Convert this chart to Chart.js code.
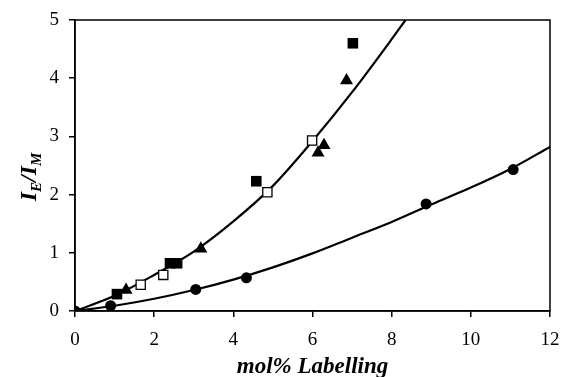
<!DOCTYPE html>
<html>
<head>
<meta charset="utf-8">
<script src="https://cdn.jsdelivr.net/npm/chart.js@4.4.1/dist/chart.umd.min.js"></script>
<style>
  body { margin: 0; background: #fff; }
  #wrap { width: 563px; height: 377px; }
</style>
</head>
<body>
<div id="wrap"><canvas id="myChart" width="563" height="377"></canvas></div>
<script>
// points (x = mol% labelling, y = IE/IM)
var filledSqX = [1.06, 2.40, 2.58, 4.58, 7.02];
var filledSqY = [0.29, 0.82, 0.82, 2.23, 4.60];
var triX = [1.29, 3.18, 6.14, 6.29, 6.86];
var triY = [0.36, 1.07, 2.72, 2.85, 3.96];
var openSqX = [1.66, 2.23, 4.86, 5.99];
var openSqY = [0.45, 0.62, 2.04, 2.93];
var circX = [0, 0.90, 3.05, 4.33, 8.87, 11.07];
var circY = [0, 0.09, 0.37, 0.57, 1.84, 2.43];

// trend curves
var upperX = [0, 1, 2, 3, 4, 5, 6, 7, 8, 8.35];
var upperY = [0, 0.26, 0.62, 1.02, 1.54, 2.15, 2.92, 3.76, 4.67, 5.0];
var lowerX = [0, 1, 2, 3, 4, 5, 6, 7, 8, 9, 10, 11, 12];
var lowerY = [0, 0.09, 0.21, 0.36, 0.54, 0.75, 0.99, 1.26, 1.53, 1.83, 2.12, 2.44, 2.82];

var xTicks = [0, 2, 4, 6, 8, 10, 12];
var yTicks = [0, 1, 2, 3, 4, 5];

function pts(xs, ys) {
   var out = [];
   xs.forEach(function (v, i) {
      out.push({ x: v, y: ys[i] });
   });
   return out;
}

var serif = "'Liberation Serif', 'Times New Roman', serif";

// box round the plot area and the y title with subscripts
var extras = {
   id: 'extras',
   afterDraw: function (chart) {
      var c = chart.ctx;
      var a = chart.chartArea;
      c.save();
      c.strokeStyle = '#000';
      c.lineWidth = 1.5;
      c.strokeRect(a.left, a.top, a.right - a.left, a.bottom - a.top);

      c.translate(28, 177);
      c.rotate(-Math.PI / 2);
      c.fillStyle = '#000';
      c.textBaseline = 'alphabetic';
      var big = "bold italic 24px " + serif;
      var small = "bold italic 15px " + serif;
      var parts = [["I", big, 0], ["E", small, 5], ["/I", big, 0], ["M", small, 5]];
      var w = 0;
      parts.forEach(function (p) { c.font = p[1]; w += c.measureText(p[0]).width; });
      var x = -w / 2;
      parts.forEach(function (p) {
         c.font = p[1];
         c.fillText(p[0], x, 8 + p[2]);
         x += c.measureText(p[0]).width;
      });
      c.restore();
   }
};

var ctx = document.getElementById('myChart').getContext('2d');

var myChart = new Chart(ctx, {
   type: 'scatter',
   data: {
      datasets: [
         { label: 'filled squares', data: pts(filledSqX, filledSqY), pointStyle: 'rect', pointRadius: 7.5,
           backgroundColor: '#000', borderColor: '#000', borderWidth: 0, order: 1 },
         { label: 'triangles', data: pts(triX, triY), pointStyle: 'triangle', pointRadius: 7.5,
           backgroundColor: '#000', borderColor: '#000', borderWidth: 0, order: 1 },
         { label: 'open squares', data: pts(openSqX, openSqY), pointStyle: 'rect', pointRadius: 6.5,
           backgroundColor: '#fff', borderColor: '#000', borderWidth: 1.3, order: 1 },
         { label: 'circles', data: pts(circX, circY), pointStyle: 'circle', pointRadius: 5.5,
           backgroundColor: '#000', borderColor: '#000', borderWidth: 0, order: 1 },
         { label: 'upper fit', data: pts(upperX, upperY), showLine: true, pointRadius: 0,
           borderColor: '#000', borderWidth: 2.2, cubicInterpolationMode: 'monotone', order: 2 },
         { label: 'lower fit', data: pts(lowerX, lowerY), showLine: true, pointRadius: 0,
           borderColor: '#000', borderWidth: 2.2, cubicInterpolationMode: 'monotone', order: 2 }
      ]
   },
   plugins: [extras],
   options: {
      responsive: false,
      animation: false,
      layout: { padding: { top: 20, right: 13, left: 0, bottom: 0 } },
      plugins: {
         legend: { display: false },
         tooltip: { enabled: false }
      },
      scales: {
         x: {
            type: 'linear',
            min: 0,
            max: 12,
            afterBuildTicks: function (axis) {
               axis.ticks = xTicks.map(function (v) { return { value: v }; });
            },
            afterFit: function (axis) {
               axis.height = 66;
               axis.paddingLeft = 0;
               axis.paddingRight = 0;
            },
            grid: { drawOnChartArea: false, drawTicks: true, tickLength: 6, color: '#000', lineWidth: 1.5 },
            border: { display: true, color: '#000', width: 1.5 },
            ticks: { color: '#000', padding: 12, maxRotation: 0, font: { family: serif, size: 19 } },
            title: {
               display: true,
               text: 'mol% Labelling',
               color: '#000',
               padding: { top: 0, bottom: -4 },
               font: { family: serif, size: 23, weight: 'bold', style: 'italic' }
            }
         },
         y: {
            type: 'linear',
            min: 0,
            max: 5,
            afterBuildTicks: function (axis) {
               axis.ticks = yTicks.map(function (v) { return { value: v }; });
            },
            afterFit: function (axis) {
               axis.width = 75;
               axis.paddingTop = 0;
               axis.paddingBottom = 0;
            },
            grid: { drawOnChartArea: false, drawTicks: true, tickLength: 6, color: '#000', lineWidth: 1.5 },
            border: { display: true, color: '#000', width: 1.5 },
            ticks: { color: '#000', padding: 10, font: { family: serif, size: 19 } }
         }
      }
   }
});
</script>
</body>
</html>
